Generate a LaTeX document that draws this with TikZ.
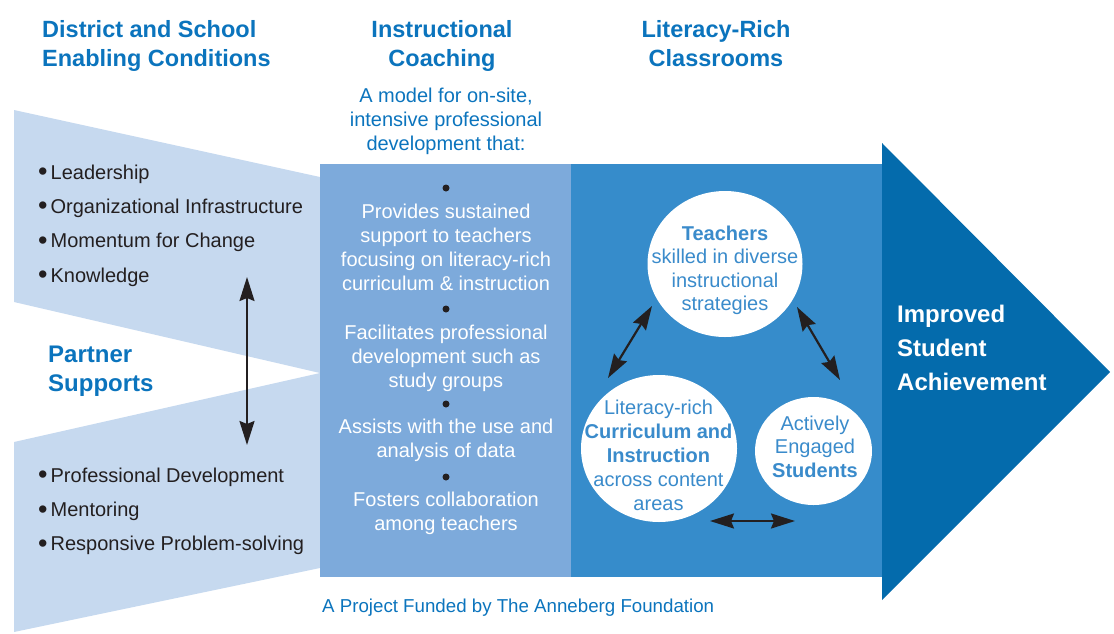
\documentclass[tikz,border=0pt]{standalone}
\usepackage{fontspec}
\usepackage{graphicx}
\setmainfont{Liberation Sans}
\usetikzlibrary{shapes.geometric,arrows.meta}
\definecolor{funnel}{HTML}{C6D9EF}
\definecolor{midblue}{HTML}{7DAADB}
\definecolor{rightblue}{HTML}{368CCB}
\definecolor{arrowblue}{HTML}{046BAC}
\definecolor{titleblue}{HTML}{0B74BD}
\definecolor{ink}{HTML}{231F20}
\definecolor{circtext}{HTML}{3A8BCB}
\newcommand\mybul{\raisebox{-1.6pt}{\scalebox{1.35}{\textbullet}}\hspace{3pt}}
\begin{document}
\begin{tikzpicture}[x=1pt,y=-1pt,
  title/.style={font=\fontsize{23.5}{29}\selectfont\bfseries, text=titleblue, inner sep=0, anchor=north, align=center},
  head/.style={font=\fontsize{24}{29}\selectfont\bfseries, text=titleblue, inner sep=0, anchor=north west, align=left},
  sub/.style={font=\fontsize{20}{24}\selectfont, text=titleblue, inner sep=0, anchor=north, align=center},
  blist/.style={font=\fontsize{20}{34.3}\selectfont, text=ink, inner sep=0, anchor=north west, align=left},
  mid/.style={font=\fontsize{20}{24}\selectfont, text=white, inner sep=0, anchor=north, align=center},
  dot/.style={circle, fill=ink, inner sep=0, minimum size=7},
  ell/.style={ellipse, fill=white, inner sep=0},
  ctext/.style={font=\fontsize{20}{23.5}\selectfont, text=circtext, inner sep=0, anchor=north, align=center},
  dbl/.style={draw=ink, line width=2.2pt, {Stealth[length=24pt,width=15pt,inset=3pt]}-{Stealth[length=24pt,width=15pt,inset=3pt]}}
]
\useasboundingbox (0,0) rectangle (1114,633);
% background shapes
\fill[funnel] (14,110) -- (320,177) -- (320,373) -- (14,302) -- cycle;
\fill[funnel] (14,442) -- (320,373) -- (320,568) -- (14,632) -- cycle;
\fill[midblue] (320,164) rectangle (571,577);
\fill[rightblue] (571,164) rectangle (882,577);
\fill[arrowblue] (882,143) -- (1110,372) -- (882,600) -- cycle;

% titles
\node[title, anchor=north west, align=left] (dist) at (42,20) {District and School\\Enabling Conditions};
\node[title] (coachT) at (442,20) {Instructional\\Coaching};
\node[title] (litT) at (716,20) {Literacy-Rich\\Classrooms};
\node[sub] (model) at (446,87.4) {A model for on-site,\\intensive professional\\development that:};

% left lists
\node[blist] (enab) at (38,164.4) {\mybul Leadership\\\mybul Organizational Infrastructure\\\mybul Momentum for Change\\\mybul Knowledge};
\node[head] (partner) at (48,345.5) {Partner\\Supports};
\node[blist] (supp) at (38,467.4) {\mybul Professional Development\\\mybul Mentoring\\\mybul Responsive Problem-solving};
\coordinate (va) at (247,277);
\coordinate (vb) at (247,445);
\draw[dbl] (va) -- (vb);

% middle column
\node[dot] (d1) at (446,188) {};
\node[mid] (p1) at (446,203.4) {Provides sustained\\support to teachers\\focusing on literacy-rich\\curriculum \& instruction};
\node[dot] (d2) at (446,309) {};
\node[mid] (p2) at (446,324.4) {Facilitates professional\\development such as\\study groups};
\node[dot] (d3) at (446,404) {};
\node[mid] (p3) at (446,418.4) {Assists with the use and\\analysis of data};
\node[dot] (d4) at (446,477) {};
\node[mid] (p4) at (446,491.4) {Fosters collaboration\\among teachers};

% circles
\node[ell, minimum width=155, minimum height=146] (t) at (725,264) {};
\node[ell, minimum width=156, minimum height=147] (l) at (659,448.5) {};
\node[ell, minimum width=117, minimum height=108] (r) at (813.5,451) {};
\node[ctext] (tt) at (725,225.4) {\textbf{Teachers}\\skilled in diverse\\instructional\\strategies};
\node[ctext, font=\fontsize{20}{24}\selectfont] (lt) at (658.5,399.4) {Literacy-rich\\\textbf{Curriculum and}\\\textbf{Instruction}\\across content\\areas};
\node[ctext] (rt) at (815,415.4) {Actively\\Engaged\\\textbf{Students}};
\coordinate (a1s) at (652,306);
\coordinate (a1e) at (608,378);
\coordinate (a2s) at (797,307);
\coordinate (a2e) at (840,380);
\coordinate (a3s) at (710,521);
\coordinate (a3e) at (795,521);
\draw[dbl] (a1s) -- (a1e);
\draw[dbl] (a2s) -- (a2e);
\draw[dbl] (a3s) -- (a3e);

% outcome
\node[head, text=white, font=\fontsize{24}{34}\selectfont\bfseries] (imp) at (897,304.5) {Improved\\Student\\Achievement};

% footer
\node[font=\fontsize{18.7}{19}\selectfont, text=titleblue, anchor=base west, inner sep=0] (foot) at (322,612) {A Project Funded by The Anneberg Foundation};
\end{tikzpicture}
\end{document}
